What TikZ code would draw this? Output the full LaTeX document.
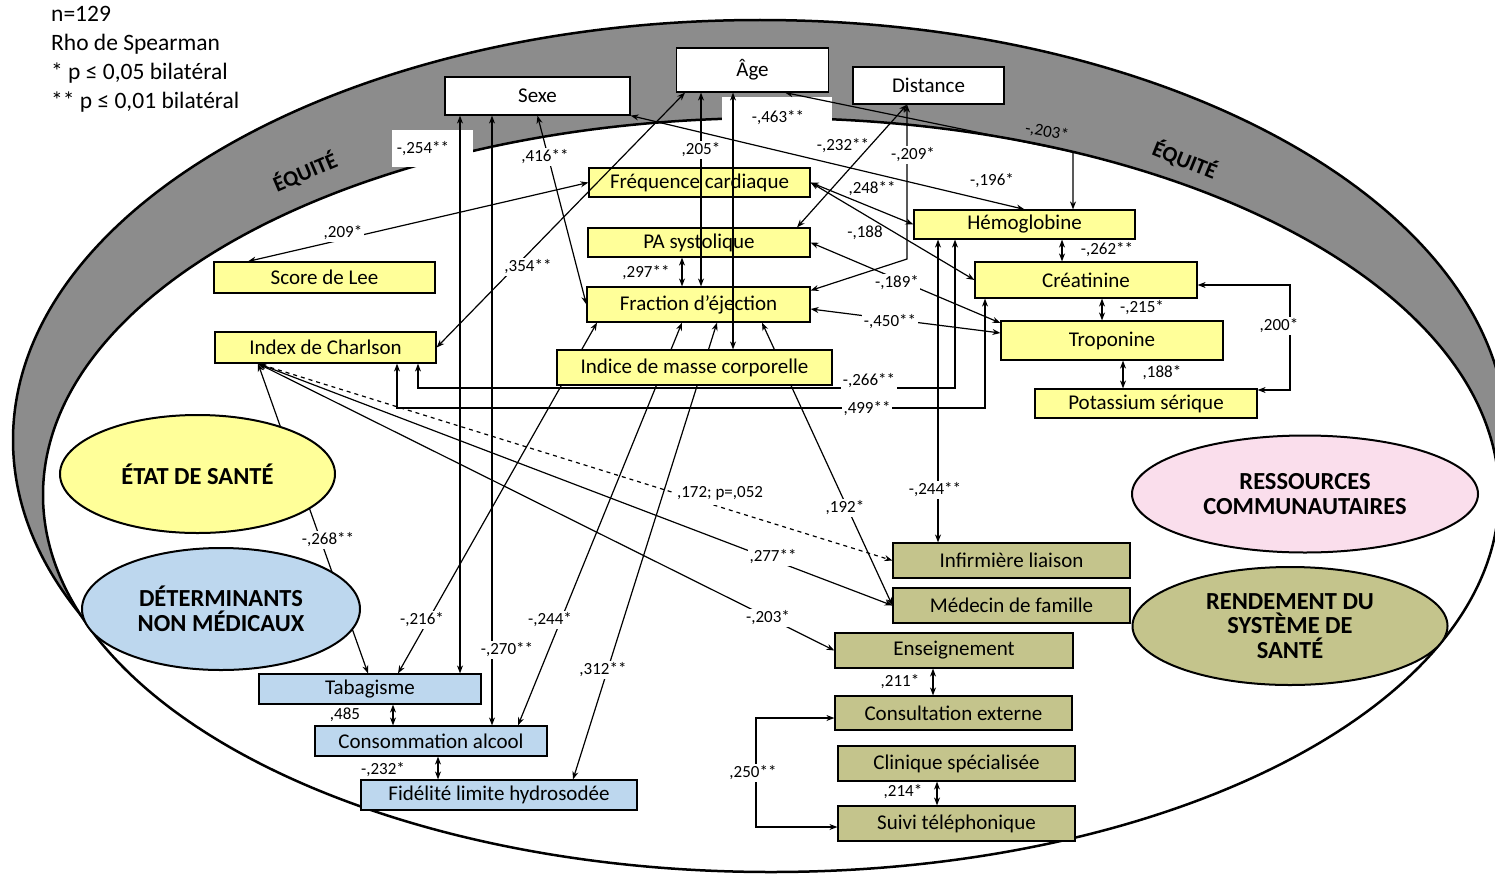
\documentclass[tikz,border=0pt]{standalone}
\usepackage{fontspec}
\setmainfont{Carlito}
\usetikzlibrary{shapes.geometric, arrows.meta, positioning, calc}
\definecolor{bandgray}{RGB}{140,140,140}
\definecolor{clinyellow}{RGB}{255,255,153}
\definecolor{lifeblue}{RGB}{189,215,238}
\definecolor{careolive}{RGB}{196,196,140}
\definecolor{commpink}{RGB}{250,222,236}
\pgfdeclarelayer{back}
\pgfdeclarelayer{hidden}
\pgfsetlayers{back,hidden,main}

\begin{document}
\begin{tikzpicture}[
  x=1pt, y=-1pt,
  wh/.style 2 args={minimum width=#1pt, minimum height=#2pt},
  box/.style={draw, line width=1.2pt, inner sep=0pt, font=\fontsize{21}{24}\selectfont},
  topbox/.style={box, fill=white},
  clinbox/.style={box, fill=clinyellow},
  lifebox/.style={box, fill=lifeblue},
  carebox/.style={box, fill=careolive},
  zone/.style={ellipse, draw, line width=2pt, align=center, inner sep=0pt, font=\fontsize{24.5}{24.5}\selectfont\bfseries},
  equity/.style={font=\fontsize{22}{24}\selectfont\bfseries},
  link/.style={line width=1.2pt, {Stealth[length=8pt,width=6pt]}-{Stealth[length=8pt,width=6pt]}},
  coef/.style={font=\fontsize{17}{19}\selectfont, inner sep=1.5pt},
  gap/.style={coef, fill=white}
]
  \useasboundingbox (0,0) rectangle (1495,875);

  % Equity band and inner field
  \begin{pgfonlayer}{back}
    \draw[line width=2.5pt, fill=bandgray] (760,440) ellipse [x radius=747pt, y radius=420pt];
    \draw[line width=2.5pt, fill=white] (771,495) ellipse [x radius=728pt, y radius=377pt];
    \fill[white] (392,130) rectangle (473,167);
    \fill[white] (722,97) rectangle (832,126);
  \end{pgfonlayer}
  \node[equity, rotate=23] (eqleft) at (305,172) {ÉQUITÉ};
  \node[equity, rotate=-22] (eqright) at (1185,160) {ÉQUITÉ};

  % Legend
  \node[anchor=north west, align=left, inner sep=0pt, font=\fontsize{23.5}{29}\selectfont] (legend) at (51,6)
    {n=129\\Rho de Spearman\\* p ≤ 0,05 bilatéral\\** p ≤ 0,01 bilatéral};

  % Socio-demographic boxes
  \node[topbox, wh={185}{38}] (sexe) at (537.5,96) {Sexe};
  \node[topbox, wh={152}{44}] (age) at (752.5,70) {Âge};
  \node[topbox, wh={151}{37}] (dist) at (928.5,85.5) {Distance};

  % Health status
  \node[clinbox, wh={221}{29}] (freq) at (699.5,182.5) {Fréquence cardiaque};
  \node[clinbox, wh={222}{29}] (pas) at (699,242.5) {PA systolique};
  \node[clinbox, wh={223}{35}] (fej) at (698.5,304.5) {Fraction d'éjection};
  \node[clinbox, wh={275}{35}] (imc) at (694.5,367.5) {Indice de masse corporelle};
  \node[clinbox, wh={221}{31}] (lee) at (324.5,277.5) {Score de Lee};
  \node[clinbox, wh={221}{31}] (charl) at (325.5,347.5) {Index de Charlson};
  \node[clinbox, wh={221}{29}] (hemo) at (1024.5,224.5) {Hémoglobine};
  \node[clinbox, wh={222}{36}] (crea) at (1086,280) {Créatinine};
  \node[clinbox, wh={222}{39}] (tropo) at (1112,340.5) {Troponine};
  \node[clinbox, wh={222}{29}] (kalium) at (1146,403.5) {Potassium sérique};

  % Non-medical determinants
  \node[lifebox, wh={222}{30}] (tabac) at (370,689) {Tabagisme};
  \node[lifebox, wh={232}{30}] (alcool) at (431,741) {Consommation alcool};
  \node[lifebox, wh={276}{30}] (fidel) at (499,795) {Fidélité limite hydrosodée};

  % Health system
  \node[carebox, wh={237}{35}] (infir) at (1011.5,560.5) {Infirmière liaison};
  \node[carebox, wh={237}{35}] (medec) at (1011.5,605.5) {Médecin de famille};
  \node[carebox, wh={238}{35}] (enseig) at (954,650.5) {Enseignement};
  \node[carebox, wh={237}{34}] (consult) at (953.5,713) {Consultation externe};
  \node[carebox, wh={237}{35}] (clinique) at (956.5,763.5) {Clinique spécialisée};
  \node[carebox, wh={237}{35}] (suivi) at (956.5,823.5) {Suivi téléphonique};

  % Domains
  \node[zone, fill=clinyellow, wh={275}{118}] (etat) at (197.5,474) {ÉTAT DE SANTÉ};
  \node[zone, fill=lifeblue, wh={278}{122}] (determ) at (221,609) {DÉTERMINANTS\\NON MÉDICAUX};
  \node[zone, fill=commpink, wh={346}{117}] (resso) at (1305,494) {RESSOURCES\\COMMUNAUTAIRES};
  \node[zone, fill=careolive, wh={315}{118}] (rendement) at (1290,626) {RENDEMENT DU\\SYSTÈME DE\\SANTÉ};

  % Corners of the elbow links
  \coordinate (cAgeHb) at (1073,152);
  \coordinate (cDist) at (907,259);
  \coordinate (cK1) at (1290,285);
  \coordinate (cK2) at (1290,390);
  \coordinate (cH1) at (418,388);
  \coordinate (cH2) at (955,388);
  \coordinate (cC1) at (397,408);
  \coordinate (cC2) at (985,408);
  \coordinate (cS1) at (756,718);
  \coordinate (cS2) at (756,827);

  % Links running behind boxes
  \begin{pgfonlayer}{hidden}
    \draw[link] ([xshift=-101.5pt]fej.south) -- ([xshift=28pt]tabac.north);
    \draw[link] ([xshift=-16.5pt]fej.south) -- ([xshift=87pt]alcool.north);
    \draw[link] ([xshift=18.5pt]fej.south) -- ([xshift=74pt]fidel.north);
    \draw[link] ([xshift=63.5pt]fej.south) -- (medec.west);
    \draw[link] ([xshift=-67.5pt]charl.south) -- ([xshift=-2pt]tabac.north);
  \end{pgfonlayer}

  % Links
  \draw[link] ([xshift=-77.5pt]sexe.south) -- ([xshift=-77.5pt]sexe.south |- tabac.north);
  \draw[link] ([xshift=-45.5pt]sexe.south) -- ([xshift=-45.5pt]sexe.south |- alcool.north);
  \draw[link] (sexe.south) -- (fej.west);
  \draw[link] (sexe.south east) -- (hemo.north);
  \draw[link] ([xshift=-67.5pt]age.south) -- (charl.east);
  \draw[link] ([xshift=-51.5pt]age.south) -- ([xshift=-51.5pt]age.south |- fej.north);
  \draw[link] ([xshift=-19.5pt]age.south) -- ([xshift=-19.5pt]age.south |- imc.north);
  \draw[link] ([xshift=32.5pt]age.south) -- (cAgeHb) -- (cAgeHb |- hemo.north);
  \draw[link] ([xshift=-21.5pt]dist.south) -- ([xshift=98pt]pas.north);
  \draw[link] ([xshift=-21.5pt]dist.south) -- (cDist) -- ([yshift=14pt]fej.east);
  \draw[link] ([xshift=-76.5pt]lee.north) -- (freq.west);
  \draw[link] ([xshift=-17pt]pas.south) -- ([xshift=-17pt]pas.south |- fej.north);
  \draw[link] (freq.east) -- (hemo.west);
  \draw[link] (freq.east) -- (crea.west);
  \draw[link] (pas.east) -- ([yshift=17.5pt]tropo.west);
  \draw[link] ([yshift=-4.5pt]fej.east) -- ([yshift=7.5pt]tropo.west);
  \draw[link] ([xshift=37.5pt]hemo.south) -- ([xshift=37.5pt]hemo.south |- crea.north);
  \draw[link] ([xshift=16pt]crea.south) -- ([xshift=16pt]crea.south |- tropo.north);
  \draw[link] ([xshift=11pt]tropo.south) -- ([xshift=11pt]tropo.south |- kalium.north);
  \draw[link] ([yshift=-5pt]crea.east) -- (cK1) -- (cK2) -- ([yshift=13.5pt]kalium.east);
  \draw[link] ([xshift=92.5pt]charl.south) -- (cH1) -- (cH2) -- ([xshift=-69.5pt]hemo.south);
  \draw[link] ([xshift=71.5pt]charl.south) -- (cC1) -- (cC2) -- ([xshift=-101pt]crea.south);
  \draw[link] ([xshift=-86.5pt]hemo.south) -- ([xshift=-86.5pt]hemo.south |- infir.north);
  \draw[link, dash pattern=on 4pt off 4pt] ([xshift=-67.5pt]charl.south) -- (infir.west);
  \draw[link] ([xshift=-67.5pt]charl.south) -- (medec.west);
  \draw[link] ([xshift=-67.5pt]charl.south) -- (enseig.west);
  \draw[link] ([xshift=23pt]tabac.south) -- ([xshift=23pt]tabac.south |- alcool.north);
  \draw[link] ([xshift=7pt]alcool.south) -- ([xshift=7pt]alcool.south |- fidel.north);
  \draw[link] ([xshift=-21pt]enseig.south) -- ([xshift=-21pt]enseig.south |- consult.north);
  \draw[link] ([xshift=-19.5pt]clinique.south) -- ([xshift=-19.5pt]clinique.south |- suivi.north);
  \draw[link] ([yshift=-5pt]consult.west) -- (cS1) -- (cS2) -- ([yshift=-3.5pt]suivi.west);

  % Coefficients
  \node[coef] (r254) at (423,149) {-,254**};
  \node[gap] (r416) at (545,157) {,416**};
  \node[gap] (r205) at (701,150) {,205*};
  \node[coef] (r463) at (778,118) {-,463**};
  \node[coef] (r232a) at (843,146) {-,232**};
  \node[gap] (r209a) at (913,155) {-,209*};
  \node[coef, rotate=-10] (r203a) at (1047,132) {-,203*};
  \node[coef] (r196) at (992,181) {-,196*};
  \node[coef] (r248) at (872,189) {,248**};
  \node[coef] (r188a) at (865,233) {-,188};
  \node[gap] (r189) at (897,283) {-,189*};
  \node[gap] (r450) at (890,322) {-,450**};
  \node[coef] (r262) at (1107,250) {-,262**};
  \node[coef] (r215) at (1142,308) {-,215*};
  \node[coef] (r188b) at (1162,373) {,188*};
  \node[gap] (r200) at (1279,326) {,200*};
  \node[gap] (r266) at (869,381) {-,266**};
  \node[gap] (r499) at (867,409) {,499**};
  \node[coef] (r297) at (646,273) {,297**};
  \node[gap] (r209b) at (343,233) {,209*};
  \node[gap] (r354) at (528,267) {,354**};
  \node[gap] (r244a) at (935,490) {-,244**};
  \node[gap, inner ysep=5pt, inner xsep=4pt] (r172) at (720,493) {,172; p=,052};
  \node[gap] (r192) at (845,508) {,192*};
  \node[gap] (r277) at (773,557) {,277**};
  \node[gap] (r203b) at (768,618) {-,203*};
  \node[gap] (r268) at (328,540) {-,268**};
  \node[gap] (r216) at (422,620) {-,216*};
  \node[gap] (r270) at (507,650) {-,270**};
  \node[gap] (r244b) at (550,620) {-,244*};
  \node[gap] (r312) at (603,670) {,312**};
  \node[coef] (r485) at (345,715) {,485};
  \node[coef] (r232b) at (383,770) {-,232*};
  \node[coef] (r211) at (900,682) {,211*};
  \node[coef] (r214) at (903,792) {,214*};
  \node[gap] (r250) at (753,773) {,250**};
\end{tikzpicture}
\end{document}
